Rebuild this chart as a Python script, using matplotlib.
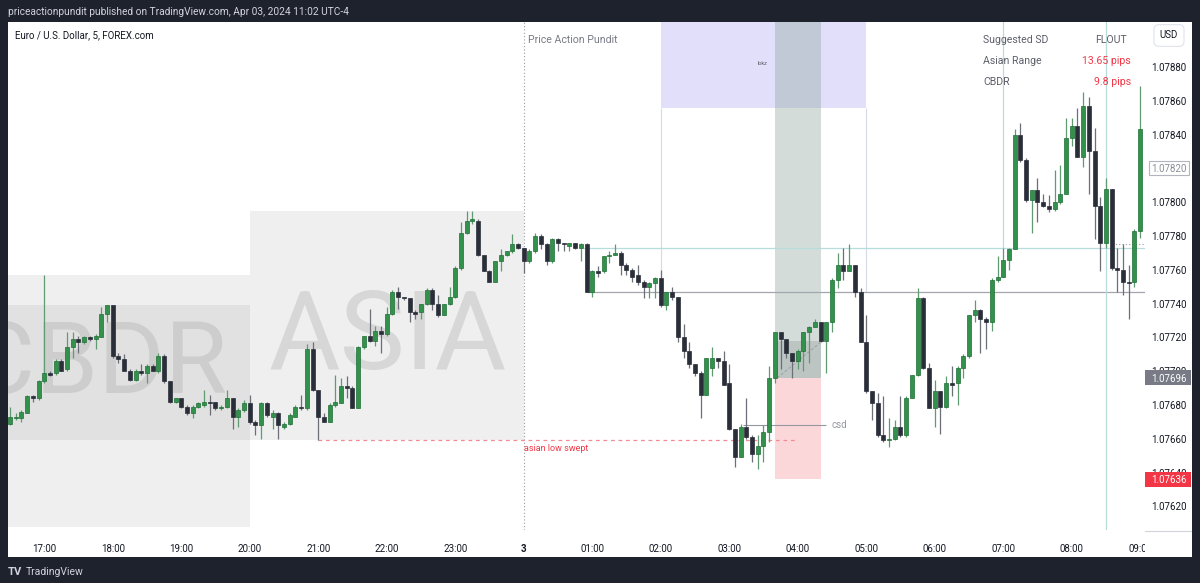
import matplotlib
matplotlib.use("Agg")
import matplotlib.pyplot as plt
import matplotlib.transforms as mtransforms
from matplotlib.patches import Rectangle
import numpy as np
import pandas as pd

plt.rcParams['font.family'] = ['Roboto', 'DejaVu Sans']

# ---------------- data (EUR/USD 5m, FOREX.com) ----------------
session_start = "2024-04-02 16:30"

opens = [
    1.07669, 1.07672, 1.07672, 1.07675, 1.07685, 1.07684, 1.07694, 1.07699, 1.07699, 1.07706,
    1.07701, 1.07714, 1.07719, 1.07717, 1.07720, 1.07719, 1.07720, 1.07734, 1.07739, 1.07709,
    1.07707, 1.07700, 1.07695, 1.07700, 1.07699, 1.07703, 1.07700, 1.07709, 1.07694, 1.07682,
    1.07684, 1.07679, 1.07675, 1.07679, 1.07680, 1.07682, 1.07682, 1.07678, 1.07679, 1.07684,
    1.07673, 1.07677, 1.07681, 1.07670, 1.07668, 1.07681, 1.07673, 1.07675, 1.07667, 1.07669,
    1.07673, 1.07679, 1.07678, 1.07713, 1.07689, 1.07673, 1.07670, 1.07680, 1.07681, 1.07691,
    1.07690, 1.07678, 1.07714, 1.07721, 1.07718, 1.07724, 1.07722, 1.07734, 1.07747, 1.07744,
    1.07743, 1.07735, 1.07735, 1.07740, 1.07748, 1.07740, 1.07733, 1.07740, 1.07744, 1.07761,
    1.07782, 1.07789, 1.07789, 1.07769, 1.07759, 1.07753, 1.07765, 1.07769, 1.07771, 1.07775,
    1.07773, 1.07765, 1.07771, 1.07780, 1.07775, 1.07765, 1.07778, 1.07776, 1.07774, 1.07776,
    1.07773, 1.07775, 1.07747, 1.07759, 1.07759, 1.07768, 1.07769, 1.07770, 1.07763, 1.07760,
    1.07757, 1.07753, 1.07750, 1.07752, 1.07755, 1.07739, 1.07747, 1.07744, 1.07720, 1.07712,
    1.07704, 1.07699, 1.07686, 1.07702, 1.07708, 1.07706, 1.07693, 1.07666, 1.07649, 1.07667,
    1.07661, 1.07651, 1.07656, 1.07664, 1.07696, 1.07723, 1.07719, 1.07711, 1.07706, 1.07712,
    1.07723, 1.07726, 1.07729, 1.07718, 1.07729, 1.07754, 1.07763, 1.07759, 1.07763, 1.07747,
    1.07717, 1.07688, 1.07681, 1.07662, 1.07659, 1.07660, 1.07667, 1.07662, 1.07684, 1.07698,
    1.07743, 1.07702, 1.07678, 1.07688, 1.07679, 1.07693, 1.07693, 1.07702, 1.07709, 1.07733,
    1.07736, 1.07731, 1.07729, 1.07754, 1.07756, 1.07766, 1.07772, 1.07840, 1.07825, 1.07801,
    1.07807, 1.07800, 1.07798, 1.07796, 1.07800, 1.07805, 1.07838, 1.07845, 1.07827, 1.07857,
    1.07830, 1.07798, 1.07776, 1.07808, 1.07761, 1.07760, 1.07753, 1.07753, 1.07783,
]
highs = [
    1.07679, 1.07675, 1.07677, 1.07686, 1.07686, 1.07695, 1.07757, 1.07700, 1.07707, 1.07707,
    1.07723, 1.07723, 1.07721, 1.07721, 1.07721, 1.07722, 1.07738, 1.07739, 1.07739, 1.07711,
    1.07710, 1.07701, 1.07701, 1.07704, 1.07704, 1.07704, 1.07711, 1.07710, 1.07694, 1.07684,
    1.07684, 1.07680, 1.07680, 1.07682, 1.07689, 1.07686, 1.07682, 1.07680, 1.07689, 1.07684,
    1.07678, 1.07683, 1.07686, 1.07671, 1.07682, 1.07682, 1.07677, 1.07676, 1.07670, 1.07675,
    1.07680, 1.07686, 1.07716, 1.07717, 1.07689, 1.07675, 1.07681, 1.07698, 1.07696, 1.07697,
    1.07691, 1.07715, 1.07721, 1.07737, 1.07727, 1.07727, 1.07738, 1.07748, 1.07750, 1.07744,
    1.07743, 1.07736, 1.07740, 1.07749, 1.07749, 1.07745, 1.07740, 1.07750, 1.07762, 1.07788,
    1.07795, 1.07795, 1.07790, 1.07769, 1.07760, 1.07765, 1.07772, 1.07771, 1.07781, 1.07776,
    1.07773, 1.07772, 1.07782, 1.07781, 1.07776, 1.07779, 1.07779, 1.07776, 1.07776, 1.07776,
    1.07776, 1.07776, 1.07760, 1.07762, 1.07768, 1.07771, 1.07775, 1.07771, 1.07764, 1.07761,
    1.07763, 1.07754, 1.07753, 1.07756, 1.07760, 1.07747, 1.07750, 1.07744, 1.07728, 1.07717,
    1.07704, 1.07700, 1.07708, 1.07714, 1.07708, 1.07712, 1.07704, 1.07666, 1.07669, 1.07684,
    1.07662, 1.07662, 1.07668, 1.07703, 1.07723, 1.07723, 1.07719, 1.07711, 1.07713, 1.07723,
    1.07727, 1.07731, 1.07729, 1.07729, 1.07755, 1.07770, 1.07773, 1.07775, 1.07763, 1.07749,
    1.07733, 1.07688, 1.07687, 1.07685, 1.07672, 1.07671, 1.07685, 1.07685, 1.07698, 1.07749,
    1.07744, 1.07705, 1.07695, 1.07688, 1.07697, 1.07703, 1.07703, 1.07710, 1.07733, 1.07742,
    1.07737, 1.07732, 1.07755, 1.07768, 1.07773, 1.07773, 1.07843, 1.07847, 1.07826, 1.07807,
    1.07814, 1.07805, 1.07804, 1.07819, 1.07822, 1.07850, 1.07850, 1.07856, 1.07865, 1.07862,
    1.07844, 1.07803, 1.07814, 1.07808, 1.07773, 1.07775, 1.07763, 1.07784, 1.07869,
]
lows = [
    1.07668, 1.07671, 1.07670, 1.07675, 1.07682, 1.07683, 1.07693, 1.07697, 1.07698, 1.07700,
    1.07700, 1.07708, 1.07711, 1.07716, 1.07718, 1.07713, 1.07720, 1.07729, 1.07708, 1.07705,
    1.07700, 1.07694, 1.07694, 1.07698, 1.07693, 1.07700, 1.07699, 1.07693, 1.07681, 1.07681,
    1.07678, 1.07674, 1.07672, 1.07678, 1.07679, 1.07674, 1.07677, 1.07677, 1.07678, 1.07666,
    1.07667, 1.07676, 1.07669, 1.07662, 1.07660, 1.07673, 1.07666, 1.07660, 1.07666, 1.07668,
    1.07673, 1.07677, 1.07677, 1.07688, 1.07659, 1.07670, 1.07670, 1.07679, 1.07681, 1.07684,
    1.07678, 1.07678, 1.07713, 1.07717, 1.07715, 1.07711, 1.07721, 1.07733, 1.07737, 1.07742,
    1.07729, 1.07731, 1.07731, 1.07739, 1.07736, 1.07732, 1.07733, 1.07739, 1.07743, 1.07760,
    1.07781, 1.07787, 1.07768, 1.07759, 1.07753, 1.07753, 1.07759, 1.07768, 1.07770, 1.07772,
    1.07758, 1.07764, 1.07770, 1.07772, 1.07763, 1.07764, 1.07771, 1.07771, 1.07771, 1.07772,
    1.07765, 1.07747, 1.07744, 1.07756, 1.07758, 1.07764, 1.07769, 1.07757, 1.07757, 1.07753,
    1.07751, 1.07743, 1.07743, 1.07743, 1.07738, 1.07736, 1.07742, 1.07717, 1.07708, 1.07702,
    1.07697, 1.07672, 1.07686, 1.07697, 1.07702, 1.07692, 1.07665, 1.07643, 1.07649, 1.07660,
    1.07646, 1.07642, 1.07646, 1.07658, 1.07693, 1.07701, 1.07708, 1.07696, 1.07701, 1.07700,
    1.07705, 1.07726, 1.07717, 1.07699, 1.07723, 1.07749, 1.07754, 1.07759, 1.07744, 1.07717,
    1.07687, 1.07671, 1.07661, 1.07658, 1.07655, 1.07659, 1.07661, 1.07661, 1.07684, 1.07697,
    1.07701, 1.07678, 1.07667, 1.07663, 1.07678, 1.07685, 1.07680, 1.07696, 1.07708, 1.07729,
    1.07711, 1.07713, 1.07724, 1.07753, 1.07756, 1.07760, 1.07772, 1.07824, 1.07800, 1.07782,
    1.07788, 1.07797, 1.07794, 1.07795, 1.07799, 1.07805, 1.07833, 1.07827, 1.07821, 1.07805,
    1.07778, 1.07759, 1.07773, 1.07760, 1.07747, 1.07745, 1.07731, 1.07750, 1.07779,
]
closes = [
    1.07673, 1.07673, 1.07676, 1.07685, 1.07684, 1.07694, 1.07699, 1.07698, 1.07706, 1.07700,
    1.07714, 1.07719, 1.07717, 1.07720, 1.07719, 1.07721, 1.07734, 1.07739, 1.07709, 1.07707,
    1.07700, 1.07695, 1.07700, 1.07699, 1.07703, 1.07700, 1.07709, 1.07694, 1.07682, 1.07684,
    1.07679, 1.07675, 1.07679, 1.07681, 1.07682, 1.07681, 1.07678, 1.07679, 1.07684, 1.07673,
    1.07677, 1.07681, 1.07670, 1.07668, 1.07681, 1.07674, 1.07675, 1.07668, 1.07669, 1.07674,
    1.07679, 1.07678, 1.07713, 1.07689, 1.07673, 1.07670, 1.07680, 1.07682, 1.07691, 1.07690,
    1.07678, 1.07714, 1.07721, 1.07718, 1.07724, 1.07722, 1.07734, 1.07747, 1.07744, 1.07743,
    1.07735, 1.07734, 1.07740, 1.07748, 1.07740, 1.07733, 1.07740, 1.07744, 1.07761, 1.07782,
    1.07789, 1.07790, 1.07769, 1.07759, 1.07753, 1.07765, 1.07769, 1.07771, 1.07775, 1.07773,
    1.07765, 1.07771, 1.07780, 1.07775, 1.07765, 1.07778, 1.07776, 1.07775, 1.07776, 1.07773,
    1.07775, 1.07747, 1.07759, 1.07758, 1.07768, 1.07769, 1.07770, 1.07763, 1.07760, 1.07756,
    1.07753, 1.07750, 1.07752, 1.07755, 1.07739, 1.07747, 1.07744, 1.07720, 1.07712, 1.07704,
    1.07699, 1.07686, 1.07708, 1.07708, 1.07706, 1.07692, 1.07666, 1.07649, 1.07667, 1.07661,
    1.07651, 1.07656, 1.07664, 1.07696, 1.07723, 1.07719, 1.07711, 1.07706, 1.07712, 1.07723,
    1.07726, 1.07729, 1.07718, 1.07729, 1.07754, 1.07763, 1.07759, 1.07763, 1.07747, 1.07717,
    1.07688, 1.07681, 1.07662, 1.07659, 1.07660, 1.07667, 1.07662, 1.07684, 1.07698, 1.07743,
    1.07702, 1.07678, 1.07688, 1.07679, 1.07693, 1.07692, 1.07702, 1.07709, 1.07733, 1.07736,
    1.07731, 1.07729, 1.07754, 1.07756, 1.07766, 1.07772, 1.07840, 1.07825, 1.07801, 1.07807,
    1.07800, 1.07798, 1.07796, 1.07800, 1.07805, 1.07838, 1.07845, 1.07827, 1.07857, 1.07830,
    1.07798, 1.07776, 1.07808, 1.07761, 1.07760, 1.07753, 1.07752, 1.07783, 1.07843,
]

hour_labels = ["17:00", "18:00", "19:00", "20:00", "21:00", "22:00", "23:00", "3",
               "01:00", "02:00", "03:00", "04:00", "05:00", "06:00", "07:00", "08:00", "09:00"]
price_ticks = [1.07880, 1.07860, 1.07840, 1.07820, 1.07800, 1.07780, 1.07760,
               1.07740, 1.07720, 1.07700, 1.07680, 1.07660, 1.07640, 1.07620]

# session / drawing levels
cbdr_high, cbdr_low = 1.07757, 1.07659
proj_high, proj_low = 1.07739, 1.07608
asia_high, asia_low = 1.07795, 1.07659
lokz_low = 1.07856
entry_price, stop_price, pnl_price = 1.07696, 1.07636, 1.07718
teal_level, grey_level = 1.07773, 1.07747
csd_level = 1.07668
dotted_level = 1.07775
boxed_label = 1.07820

# time anchors (candle index from 16:30)
t_cbdr = (-5, 42); t_asia = (42, 90); t_midnight = 90
t_lokz = (114, 150); t_pos = (134, 142)
t_sweep = (54, 138); t_csd = (128.5, 143); t_levels = 101
t_v1, t_v2 = 174, 192

# ---------------- figure ----------------
W, H = 1200, 583
DARK = '#1e222d'
fig = plt.figure(figsize=(W / 100, H / 100), dpi=100)
fig.patch.set_facecolor(DARK)


def frect(x0, y0, x1, y1):
    return [x0 / W, 1 - y1 / H, (x1 - x0) / W, (y1 - y0) / H]


def ftext(x, y, s, **kw):
    return fig.text(x / W, 1 - y / H, s, **kw)


fig.add_artist(Rectangle((8 / W, 1 - 557 / H), (1192 - 8) / W, (557 - 22) / H,
                         transform=fig.transFigure, fc='white', ec='none', zorder=-5))

ax = fig.add_axes(frect(8, 22, 1145, 530), zorder=1)
ax.set_facecolor('white')
for s in ax.spines.values():
    s.set_visible(False)

n = len(opens)
times = pd.date_range(session_start, periods=n, freq='5min')
idx = np.arange(n)
o = np.array(opens); h = np.array(highs); l = np.array(lows); c = np.array(closes)

YMIN, YMAX = 1.076060, 1.079066
ax.set_xlim(-0.35, 198.84)
ax.set_ylim(YMIN, YMAX)

# CBDR / Asia boxes
for lo_, hi_ in [(cbdr_low, cbdr_high), (proj_low, proj_high)]:
    ax.add_patch(Rectangle((t_cbdr[0], lo_), t_cbdr[1] - t_cbdr[0], hi_ - lo_,
                           fc='#696969', alpha=0.1, ec='none', zorder=0.5))
ax.add_patch(Rectangle((t_asia[0], asia_low), t_asia[1] - t_asia[0], asia_high - asia_low,
                       fc='#696969', alpha=0.1, ec='none', zorder=0.5))
ax.text(66.2, 1.07701, 'ASIA', fontsize=79, color='#d7d7d7', ha='center',
        va='baseline', zorder=0.8)
tc = ax.text(38.0, 1.07687, 'CBDR', fontsize=73, color='#cdcdcd', ha='right',
             va='baseline', zorder=0.8, clip_on=True)
tc.set_clip_box(ax.bbox)

# lokz box
ax.add_patch(Rectangle((t_lokz[0], lokz_low), t_lokz[1] - t_lokz[0], 0.01,
                       fc='#e1dff9', ec='none', zorder=0.6))
ax.text(131.9, 1.07882, 'lokz', fontsize=4, color='#5d606b', ha='center', va='center', zorder=2)
ax.vlines([t_lokz[0], t_lokz[1]], grey_level, lokz_low, color='#d6d9e6', lw=0.8, zorder=0.7)

# position tool
ax.add_patch(Rectangle((t_pos[0], entry_price), t_pos[1] - t_pos[0], 0.01,
                       fc='#8fa59d', alpha=0.38, ec='none', zorder=0.9))
ax.add_patch(Rectangle((t_pos[0] + 0.4, entry_price), t_pos[1] - t_pos[0] - 0.4, pnl_price - entry_price,
                       fc='#7a8482', alpha=0.25, ec='none', zorder=0.95))
ax.add_patch(Rectangle((t_pos[0], stop_price), t_pos[1] - t_pos[0], entry_price - stop_price,
                       fc='#fcd7da', ec='none', zorder=0.9))
ax.plot([t_pos[0] + 0.4, t_pos[1]], [entry_price, pnl_price - 0.00001], color='#9aa0a6',
        lw=0.7, ls=(0, (3, 2)), zorder=1)

# lines
ax.axvline(t_midnight, color='#9598a1', lw=0.8, ls=(0, (1, 2)), zorder=1)
ax.hlines(teal_level, t_levels - 0.6, 200, color='#b7dcdc', lw=0.9, zorder=1)
ax.hlines(grey_level, t_levels, 200, color='#a3a6ae', lw=0.9, zorder=1)
ax.axvline(t_v1, ymin=(teal_level - YMIN) / (YMAX - YMIN), color='#b7dcdc', lw=0.9, zorder=1)
ax.axvline(t_v2, color='#b7dcdc', lw=0.9, zorder=1)
ax.hlines(dotted_level, 193, 200, color='#9598a1', lw=0.8, ls=(0, (1, 2)), zorder=1)
ax.hlines(asia_low, t_sweep[0], t_sweep[1], color='#f28b94', lw=0.9, ls=(0, (3, 3)), zorder=1.5)
ax.text(t_midnight, 1.07654, 'asian low swept', fontsize=6.5, color='#f23645',
        ha='left', va='center', zorder=6)
ax.hlines(csd_level, t_csd[0], t_csd[1], color='#9598a1', lw=0.8, zorder=1.5)
ax.text(t_csd[1] + 1.0, csd_level, 'csd', fontsize=7, color='#9598a1', ha='left', va='center', zorder=6)

# candles
up = c >= o
GREEN, GREEN_EDGE, BLACK = '#32914a', '#1f6e36', '#2a2e39'
body_lo = np.minimum(o, c)
body_h = np.maximum(np.abs(c - o), 0.000007)
ax.vlines(idx[up], l[up], h[up], color='#5f9a70', lw=0.9, zorder=3)
ax.vlines(idx[~up], l[~up], h[~up], color='#6c6f78', lw=0.9, zorder=3)
ax.bar(idx[up], body_h[up], bottom=body_lo[up], width=0.7, color=GREEN,
       edgecolor=GREEN_EDGE, lw=0.5, zorder=4)
ax.bar(idx[~up], body_h[~up], bottom=body_lo[~up], width=0.7, color=BLACK,
       edgecolor=BLACK, lw=0.5, zorder=4)

# time axis
tick_pos = [i for i, t in enumerate(times) if t.minute == 0]
ax.set_xticks(tick_pos)
ax.set_xticklabels(hour_labels)
ax.set_yticks([])
ax.tick_params(axis='x', length=0, pad=10, labelsize=7, labelcolor='#131722')
for lab in ax.get_xticklabels():
    if lab.get_text() == '3':
        lab.set_fontweight('bold')

# price axis
pax = fig.add_axes(frect(1145, 22, 1192, 557), zorder=2)
pax.set_facecolor('white')
pax.set_xticks([]); pax.set_yticks([])
for s in pax.spines.values():
    s.set_visible(False)
pax.set_xlim(0, 1); pax.set_ylim(0, 1)
pax.axhline((557 - 531) / (557 - 22), color='#d1d4dc', lw=0.8)
bt = mtransforms.blended_transform_factory(pax.transAxes, ax.transData)
for p in price_ticks:
    pax.text(0.5, p, f"{p:.5f}", transform=bt, ha='center', va='center_baseline',
             fontsize=7, color='#131722', zorder=3)
px_h = 1 / 169000.0
pax.add_patch(Rectangle((0.08, boxed_label - 7 * px_h), 0.86, 14 * px_h, transform=bt,
                        fc='white', ec='#b2b5be', lw=0.8, zorder=4))
pax.text(0.5, boxed_label, f"{boxed_label:.5f}", transform=bt, ha='center',
         va='center_baseline', fontsize=7, color='#8a8e97', zorder=5)
for p, col in [(entry_price, '#787b86'), (stop_price, '#f23645')]:
    pax.add_patch(Rectangle((0.0, p - 7.5 * px_h), 0.98, 15 * px_h, transform=bt,
                            fc=col, ec='none', zorder=4))
    pax.text(0.5, p, f"{p:.5f}", transform=bt, ha='center', va='center_baseline',
             fontsize=7, color='white', zorder=5)
ftext(1169, 35.5, 'USD', fontsize=7, color='#131722', ha='center', va='center',
      bbox=dict(boxstyle='round,pad=0.6,rounding_size=0.5', fc='white', ec='#e0e3eb', lw=0.8))

# overlay texts
ftext(8, 12, 'priceactionpundit published on TradingView.com, Apr 03, 2024 11:02 UTC-4',
      fontsize=7.3, color='#d1d4dc', ha='left', va='center')
ftext(15, 35, 'Euro / U.S. Dollar, 5, FOREX.com', fontsize=7, color='#131722', ha='left', va='center')
ftext(528, 40, 'Price Action Pundit', fontsize=7.6, color='#787b86', ha='left', va='center')
tab_grey, tab_red = '#5d606b', '#f23645'
ftext(983, 40, 'Suggested SD', fontsize=7.6, color=tab_grey, ha='left', va='center')
ftext(1127, 40, 'FLOUT', fontsize=7.6, color=tab_grey, ha='right', va='center')
ftext(983, 61, 'Asian Range', fontsize=7.6, color=tab_grey, ha='left', va='center')
ftext(1131, 61, '13.65 pips', fontsize=7.6, color=tab_red, ha='right', va='center')
ftext(983, 82, 'CBDR', fontsize=7.6, color=tab_grey, ha='left', va='center')
ftext(1131, 82, '9.8 pips', fontsize=7.6, color=tab_red, ha='right', va='center')

# footer
ftext(8, 572, 'TV', fontsize=8, fontweight='bold', color='#d1d4dc', ha='left', va='center')
ftext(26, 572, 'TradingView', fontsize=7.5, color='#d1d4dc', ha='left', va='center')

fig.savefig('out.png', dpi=100, facecolor=fig.get_facecolor())
